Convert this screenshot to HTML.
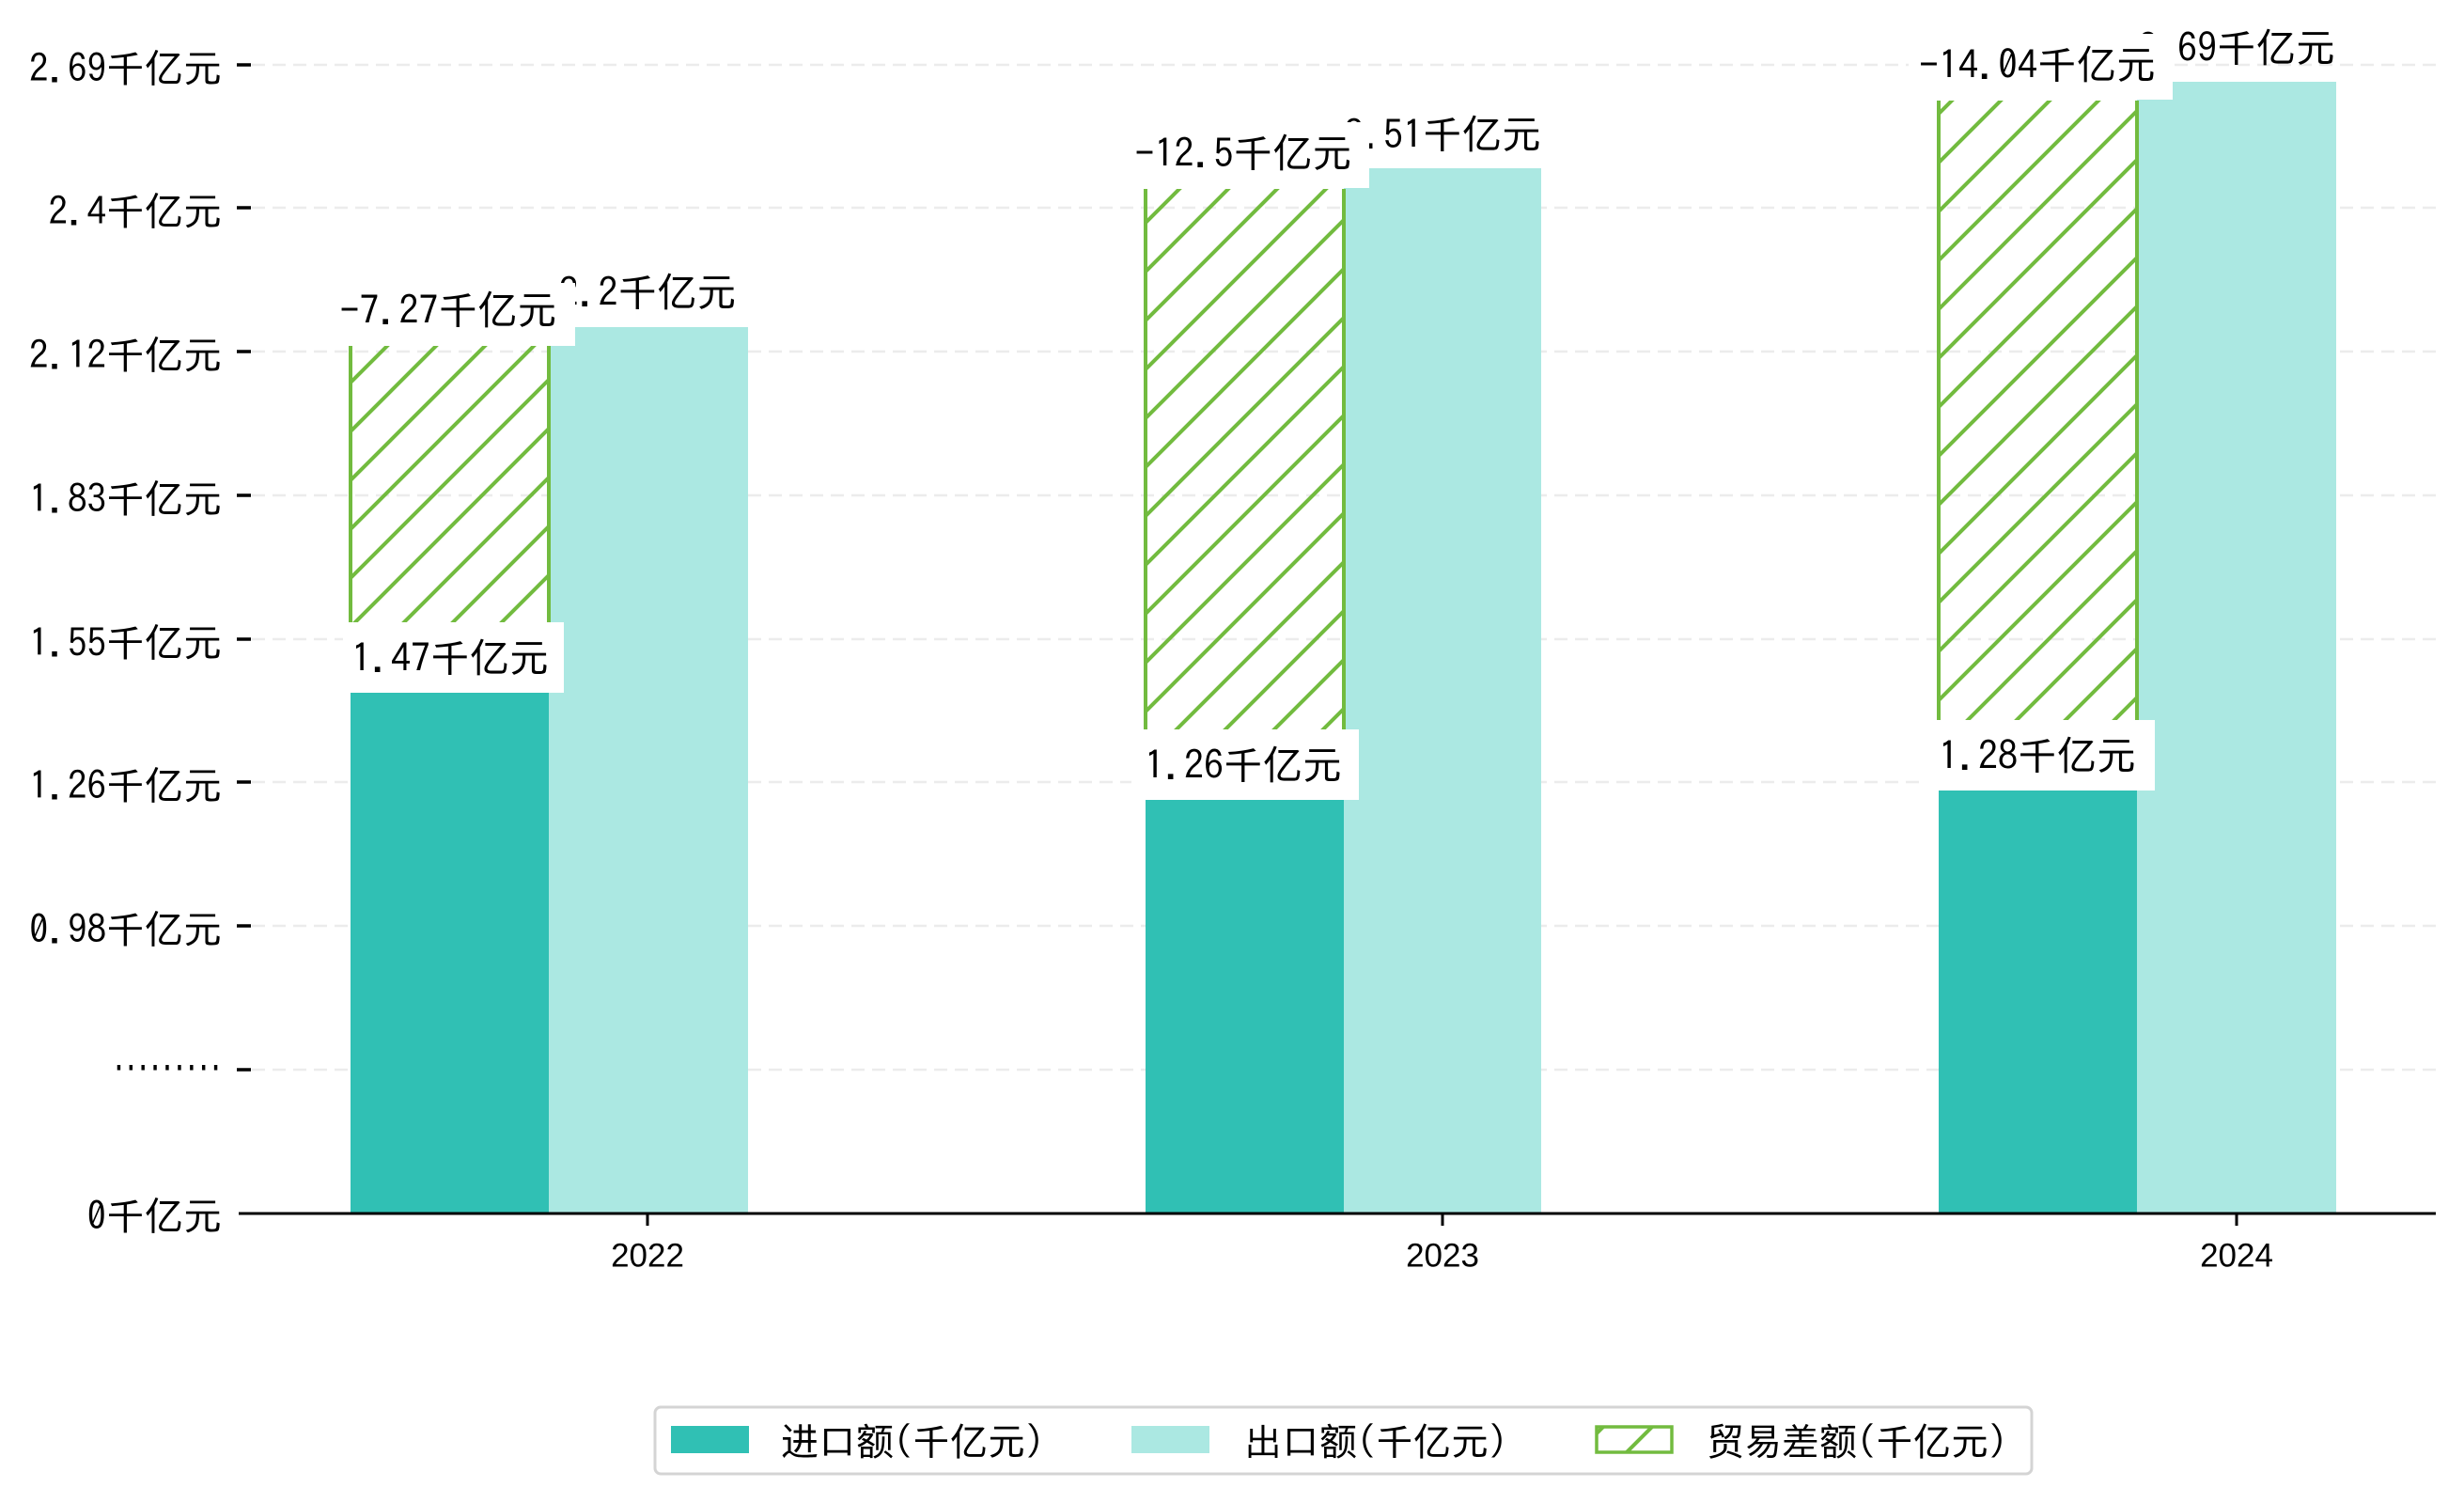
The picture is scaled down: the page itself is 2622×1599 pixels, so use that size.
<!DOCTYPE html>
<html><head><meta charset="utf-8"><style>
html,body{margin:0;padding:0;background:#fff;}
svg{display:block;}
text{font-family:"IPAGothic","Noto Sans CJK SC",sans-serif;fill:#000;}
</style></head><body>
<svg width="2622" height="1599" viewBox="0 0 2622 1599" xmlns="http://www.w3.org/2000/svg">
<defs>
<pattern id="h" patternUnits="userSpaceOnUse" width="52" height="52">
<path d="M-13,13 L13,-13 M0,52 L52,0 M39,65 L65,39" stroke="#72bb3f" stroke-width="4"/>
</pattern>
</defs>
<g stroke="#ececec" stroke-width="2.5" stroke-dasharray="14,8">
<line x1="268" y1="69" x2="2592" y2="69"/><line x1="268" y1="221" x2="2592" y2="221"/>
<line x1="268" y1="374" x2="2592" y2="374"/><line x1="268" y1="527" x2="2592" y2="527"/>
<line x1="268" y1="680" x2="2592" y2="680"/><line x1="268" y1="832" x2="2592" y2="832"/>
<line x1="268" y1="985" x2="2592" y2="985"/><line x1="268" y1="1138" x2="2592" y2="1138"/>
</g>
<g stroke="#000" stroke-width="3.5">
<line x1="252" y1="69" x2="267" y2="69"/><line x1="252" y1="221" x2="267" y2="221"/>
<line x1="252" y1="374" x2="267" y2="374"/><line x1="252" y1="527" x2="267" y2="527"/>
<line x1="252" y1="680" x2="267" y2="680"/><line x1="252" y1="832" x2="267" y2="832"/>
<line x1="252" y1="985" x2="267" y2="985"/><line x1="252" y1="1138" x2="267" y2="1138"/>
</g>
<g font-size="41" text-anchor="end" dominant-baseline="central">
<text x="236" y="72">2.69千亿元</text><text x="236" y="224">2.4千亿元</text>
<text x="236" y="377">2.12千亿元</text><text x="236" y="530">1.83千亿元</text>
<text x="236" y="683">1.55千亿元</text><text x="236" y="835">1.26千亿元</text>
<text x="236" y="988">0.98千亿元</text>
<text x="236" y="1136" textLength="116" lengthAdjust="spacingAndGlyphs">·········</text>
<text x="236" y="1293">0千亿元</text>
</g>
<rect x="373" y="737" width="211" height="553" fill="#30c0b4"/>
<rect x="584" y="348" width="212" height="942" fill="#abe8e2"/>
<rect x="373" y="368" width="211" height="369" fill="url(#h)"/>
<line x1="373" y1="368" x2="373" y2="737" stroke="#72bb3f" stroke-width="4"/>
<line x1="584" y1="368" x2="584" y2="737" stroke="#72bb3f" stroke-width="4"/>
<rect x="1219" y="851" width="211" height="439" fill="#30c0b4"/>
<rect x="1430" y="179" width="210" height="1111" fill="#abe8e2"/>
<rect x="1219" y="201" width="211" height="650" fill="url(#h)"/>
<line x1="1219" y1="201" x2="1219" y2="851" stroke="#72bb3f" stroke-width="4"/>
<line x1="1430" y1="201" x2="1430" y2="851" stroke="#72bb3f" stroke-width="4"/>
<rect x="2063" y="841" width="211" height="449" fill="#30c0b4"/>
<rect x="2274" y="87" width="212" height="1203" fill="#abe8e2"/>
<rect x="2063" y="107" width="211" height="734" fill="url(#h)"/>
<line x1="2063" y1="107" x2="2063" y2="841" stroke="#72bb3f" stroke-width="4"/>
<line x1="2274" y1="107" x2="2274" y2="841" stroke="#72bb3f" stroke-width="4"/>
<g font-size="42" text-anchor="middle" dominant-baseline="central">
<text x="689" y="311">2.2千亿元</text>
<text x="1535" y="143">2.51千亿元</text>
<text x="2380" y="51">2.69千亿元</text>
</g>
<rect x="358" y="301" width="254" height="67" fill="#fff"/>
<rect x="1187" y="130" width="270" height="70" fill="#fff"/>
<rect x="2031" y="36" width="281" height="70" fill="#fff"/>
<g font-size="42" text-anchor="middle" dominant-baseline="central">
<text x="477" y="330">-7.27千亿元</text>
<text x="1323" y="163">-12.5千亿元</text>
<text x="2168" y="69">-14.04千亿元</text>
</g>
<rect x="365" y="662" width="235" height="75" fill="#fff"/>
<rect x="1204" y="776" width="242" height="75" fill="#fff"/>
<rect x="2048" y="766" width="245" height="75" fill="#fff"/>
<g font-size="42" text-anchor="middle" dominant-baseline="central">
<text x="479" y="700">1.47千亿元</text>
<text x="1323" y="814">1.26千亿元</text>
<text x="2168" y="804">1.28千亿元</text>
</g>
<line x1="254" y1="1291" x2="2592" y2="1291" stroke="#000" stroke-width="3"/>
<g stroke="#000" stroke-width="3">
<line x1="689" y1="1291" x2="689" y2="1304"/><line x1="1535" y1="1291" x2="1535" y2="1304"/><line x1="2380" y1="1291" x2="2380" y2="1304"/>
</g>
<g font-size="35" text-anchor="middle" dominant-baseline="central">
<text x="689" y="1336" style="font-family:'Liberation Sans',sans-serif">2022</text>
<text x="1535" y="1336" style="font-family:'Liberation Sans',sans-serif">2023</text>
<text x="2380" y="1336" style="font-family:'Liberation Sans',sans-serif">2024</text>
</g>
<rect x="697" y="1497" width="1465" height="71" rx="6" fill="#fff" stroke="#d4d4d4" stroke-width="3"/>
<rect x="714" y="1517" width="83" height="29" fill="#30c0b4"/>
<rect x="1204" y="1517" width="83" height="29" fill="#abe8e2"/>
<rect x="1699" y="1518" width="80" height="27" fill="url(#h)" stroke="#72bb3f" stroke-width="3.5"/>
<g font-size="40" dominant-baseline="central">
<text x="831" y="1533">进口额(千亿元)</text>
<text x="1324" y="1533">出口额(千亿元)</text>
<text x="1816" y="1533">贸易差额(千亿元)</text>
</g>
</svg>
</body></html>
